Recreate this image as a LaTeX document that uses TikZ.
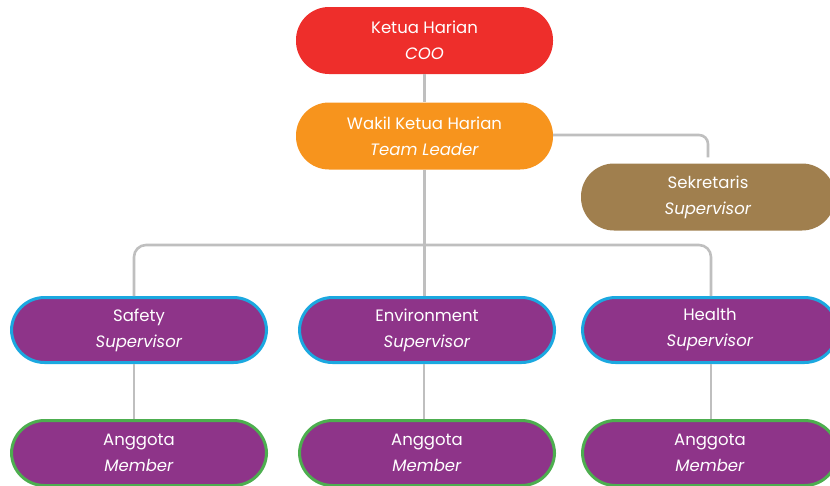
\documentclass[tikz,border=0pt]{standalone}
\usepackage{fontspec}
\setmainfont{Poppins}
\definecolor{cred}{HTML}{EE2E2B}
\definecolor{corange}{HTML}{F7941D}
\definecolor{cbrown}{HTML}{A07F4E}
\definecolor{cpurple}{HTML}{8E3489}
\definecolor{ccyan}{HTML}{1BA8E0}
\definecolor{cgreen}{HTML}{4DAE4F}
\definecolor{cline}{HTML}{BFBFBF}
\begin{document}
\begin{tikzpicture}[x=1pt,y=-1pt,
  box/.style={rectangle, rounded corners=33pt, minimum width=257pt, minimum height=67pt,
    text=white, align=center, font=\fontsize{16.5}{26}\selectfont, inner sep=0pt},
  supbox/.style={box, fill=cpurple, draw=ccyan, line width=3pt, minimum width=255pt, minimum height=65pt},
  membox/.style={box, fill=cpurple, draw=cgreen, line width=3pt, minimum width=255pt, minimum height=65pt},
  conn/.style={draw=cline, line width=2.6pt}]
\useasboundingbox (0,0) rectangle (830,485);
\clip (0,0) rectangle (830,485);
\node[box, fill=cred] (top) at (424.5,40.5) {Ketua Harian\\\textit{COO}};
\node[box, fill=corange] (wakil) at (424.5,136) {Wakil Ketua Harian\\\textit{Team Leader}};
\node[box, fill=cbrown, minimum width=254pt] (sek) at (708,197) {Sekretaris\\\textit{Supervisor}};
\node[supbox] (safety) at (139,330) {Safety\\\textit{Supervisor}};
\node[supbox] (env) at (427,330) {Environment\\\textit{Supervisor}};
\node[supbox] (health) at (710,330) {Health\\\textit{Supervisor}};
\node[membox] (m1) at (139,453) {Anggota\\\textit{Member}};
\node[membox] (m2) at (427,453) {Anggota\\\textit{Member}};
\node[membox] (m3) at (710,453) {Anggota\\\textit{Member}};
\coordinate (bus) at (424,245);
\begin{scope}[on background layer/.try]
\draw[conn] (top.south) -- (wakil.north);
\draw[conn, rounded corners=9pt] ([yshift=1pt]wakil.east) -- ([yshift=1pt]wakil.east -| sek.north) -- ([yshift=6pt]sek.north);
\draw[conn] (wakil.south) -- (wakil.south |- env.north);
\draw[conn, rounded corners=12pt] ([xshift=-5pt]safety.north) -- ([xshift=-5pt]safety.north |- bus) -- ([xshift=1pt]health.north |- bus) -- ([xshift=1pt]health.north);
\draw[conn] ([xshift=-5pt]safety.south) -- ([xshift=-5pt]m1.north);
\draw[conn] ([xshift=-3pt]env.south) -- ([xshift=-3pt]m2.north);
\draw[conn] ([xshift=1pt]health.south) -- ([xshift=1pt]m3.north);
\end{scope}
\end{tikzpicture}
\end{document}
